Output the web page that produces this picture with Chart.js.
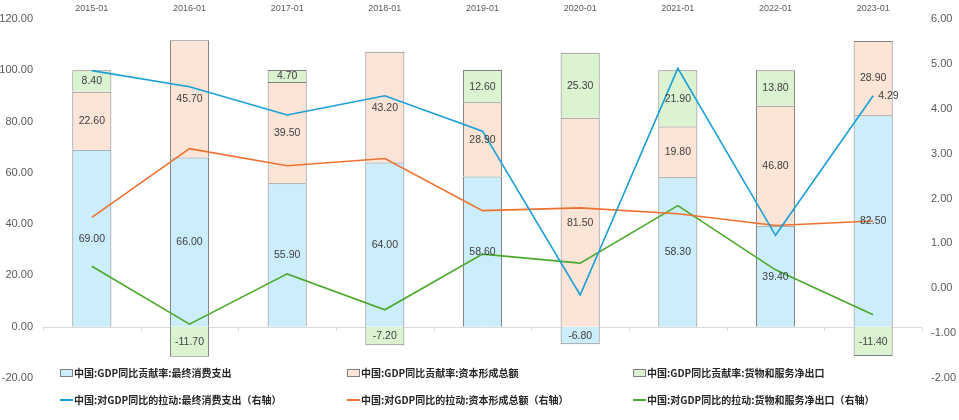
<!DOCTYPE html>
<html><head><meta charset="utf-8">
<script src="https://cdn.jsdelivr.net/npm/chart.js@4"></script>
<style>html,body{margin:0;padding:0;background:#fff;}#wrap{position:relative;width:959px;height:420px;}</style>
</head><body><div id="wrap"><canvas id="c" width="959" height="420"></canvas></div>
<script>
const categories = ['2015-01','2016-01','2017-01','2018-01','2019-01','2020-01','2021-01','2022-01','2023-01'];
const rateConsumption = [69.0, 66.0, 55.9, 64.0, 58.6, -6.8, 58.3, 39.4, 82.5];
const rateCapital = [22.6, 45.7, 39.5, 43.2, 28.9, 81.5, 19.8, 46.8, 28.9];
const rateNetExport = [8.4, -11.7, 4.7, -7.2, 12.6, 25.3, 21.9, 13.8, -11.4];
const pullConsumption = [4.85, 4.49, 3.86, 4.29, 3.50, -0.15, 4.90, 1.18, 4.29];
const pullCapital = [1.58, 3.11, 2.73, 2.89, 1.73, 1.79, 1.66, 1.40, 1.50];
const pullNetExport = [0.49, -0.80, 0.32, -0.48, 0.76, 0.56, 1.84, 0.41, -0.59];
const leftTicks = [-20, 0, 20, 40, 60, 80, 100, 120];
const rightTicks = [-2, -1, 0, 1, 2, 3, 4, 5, 6];

const FONT = '"Liberation Sans", Arial, sans-serif';
const CJK = '"Noto Sans CJK SC", "Liberation Sans", sans-serif';

const barLabelPlugin = {
  id: 'barLabels',
  afterDatasetsDraw(chart) {
    const ctx = chart.ctx;
    ctx.save();
    ctx.textAlign = 'center';
    ctx.textBaseline = 'middle';
    ctx.fillStyle = '#404040';
    ctx.font = '10.5px ' + FONT;
    chart.data.datasets.forEach((ds, di) => {
      const meta = chart.getDatasetMeta(di);
      if (ds.type === 'bar') {
        meta.data.forEach((el, i) => {
          const y = (el.y + el.base) / 2;
          ctx.fillText(ds.data[i].toFixed(2), el.x, y + 0.5);
        });
      }
    });
    const m = chart.getDatasetMeta(3);
    const last = m.data[m.data.length - 1];
    ctx.textAlign = 'left';
    ctx.fillText(pullConsumption[pullConsumption.length - 1].toFixed(2), last.x + 5, last.y);
    ctx.restore();
  }
};

const axisTickPlugin = {
  id: 'axisTicks',
  beforeDatasetsDraw(chart) {
    const ctx = chart.ctx;
    const x = chart.scales.x, y = chart.scales.y;
    const y0 = y.getPixelForValue(0);
    const half = (x.getPixelForValue(1) - x.getPixelForValue(0)) / 2;
    ctx.save();
    ctx.strokeStyle = '#d9d9d9';
    ctx.lineWidth = 1;
    ctx.beginPath();
    ctx.moveTo(chart.chartArea.left, Math.round(y0) + 0.5);
    ctx.lineTo(chart.chartArea.right, Math.round(y0) + 0.5);
    for (let i = 0; i <= categories.length; i++) {
      const px = Math.round(x.getPixelForValue(0) - half + i * 2 * half) + 0.5;
      ctx.moveTo(px, Math.round(y0) + 0.5);
      ctx.lineTo(px, Math.round(y0) + 4);
    }
    ctx.stroke();
    ctx.restore();
  }
};

const legendPlugin = {
  id: 'customLegend',
  afterDraw(chart) {
    const ctx = chart.ctx;
    const colX = [60, 347, 633];
    const rowY = [373, 400];
    ctx.save();
    ctx.font = 'bold 10px ' + CJK;
    ctx.textBaseline = 'middle';
    ctx.textAlign = 'left';
    chart.data.datasets.forEach((ds, i) => {
      const r = Math.floor(i / 3), c = i % 3;
      const x = colX[c], y = rowY[r];
      if (ds.type === 'bar') {
        ctx.fillStyle = ds.backgroundColor;
        ctx.strokeStyle = '#7f7f7f';
        ctx.lineWidth = 1;
        ctx.fillRect(x + 0.5, y - 3.5, 12, 7);
        ctx.strokeRect(x + 0.5, y - 3.5, 12, 7);
      } else {
        ctx.strokeStyle = ds.borderColor;
        ctx.lineWidth = 2;
        ctx.beginPath();
        ctx.moveTo(x, y);
        ctx.lineTo(x + 13, y);
        ctx.stroke();
      }
      ctx.fillStyle = '#262626';
      ctx.fillText(ds.label, x + 14, y);
    });
    ctx.restore();
  }
};

const barBase = { type: 'bar', yAxisID: 'y', stack: 's', borderColor: '#7f7f7f', borderWidth: 1, barPercentage: 0.4, categoryPercentage: 1.0, order: 2 };
const lineBase = { type: 'line', yAxisID: 'y1', borderWidth: 1.6, pointRadius: 0, tension: 0, fill: false, order: 1 };

new Chart(document.getElementById('c'), {
  data: {
    labels: categories,
    datasets: [
      Object.assign({}, barBase, { label: '中国:GDP同比贡献率:最终消费支出', data: rateConsumption, backgroundColor: '#ccedfb' }),
      Object.assign({}, barBase, { label: '中国:GDP同比贡献率:资本形成总额', data: rateCapital, backgroundColor: '#fce4d6' }),
      Object.assign({}, barBase, { label: '中国:GDP同比贡献率:货物和服务净出口', data: rateNetExport, backgroundColor: '#dcf3d2' }),
      Object.assign({}, lineBase, { label: '中国:对GDP同比的拉动:最终消费支出（右轴）', data: pullConsumption, borderColor: '#1a9fd6' }),
      Object.assign({}, lineBase, { label: '中国:对GDP同比的拉动:资本形成总额（右轴）', data: pullCapital, borderColor: '#f07030' }),
      Object.assign({}, lineBase, { label: '中国:对GDP同比的拉动:货物和服务净出口（右轴）', data: pullNetExport, borderColor: '#4aa82a' })
    ]
  },
  options: {
    responsive: false,
    animation: false,
    layout: { padding: { left: 0, right: 0, top: 0, bottom: 42 } },
    plugins: { legend: { display: false }, tooltip: { enabled: false } },
    scales: {
      x: {
        position: 'top',
        offset: true,
        stacked: true,
        grid: { display: false, drawTicks: false },
        border: { display: false },
        ticks: { color: '#595959', font: { size: 9, family: FONT }, padding: 5, maxRotation: 0 },
        afterFit(s) { s.height = 19; }
      },
      y: {
        position: 'left',
        stacked: true,
        min: -20, max: 120,
        afterBuildTicks(s) { s.ticks = leftTicks.map(v => ({ value: v })); },
        grid: { display: false, drawTicks: false },
        border: { display: false },
        ticks: { color: '#595959', font: { size: 11, family: FONT }, padding: 10, callback: v => Number(v).toFixed(2) },
        afterFit(s) { s.width = 43; }
      },
      y1: {
        position: 'right',
        min: -2, max: 6,
        afterBuildTicks(s) { s.ticks = rightTicks.map(v => ({ value: v })); },
        grid: { display: false, drawTicks: false },
        border: { display: false },
        ticks: { color: '#595959', font: { size: 11, family: FONT }, padding: 9, callback: v => Number(v).toFixed(2) },
        afterFit(s) { s.width = 37; }
      }
    }
  },
  plugins: [axisTickPlugin, barLabelPlugin, legendPlugin]
});
</script></body></html>
